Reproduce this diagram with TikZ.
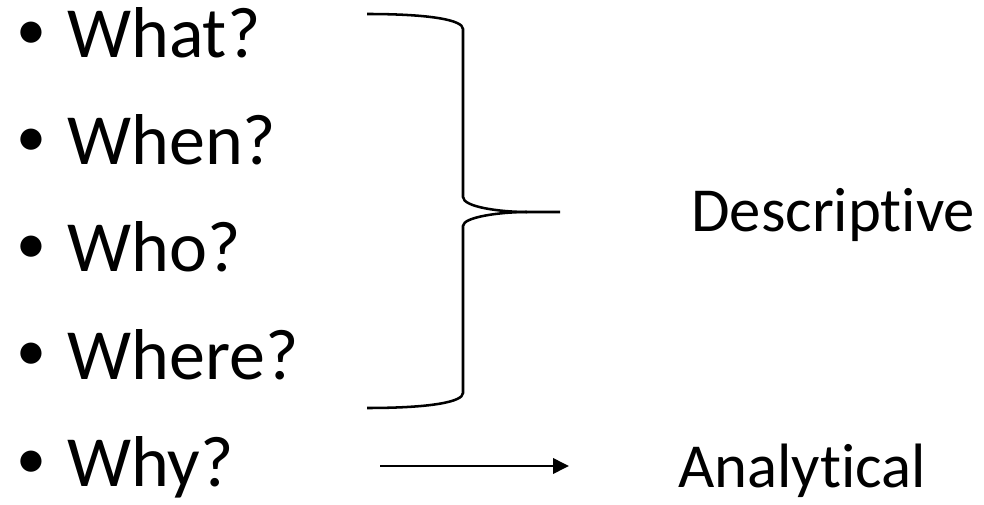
\documentclass[tikz,border=0pt]{standalone}
\usepackage{fontspec}
\setmainfont[Ligatures=NoCommon]{Carlito}
\usetikzlibrary{arrows.meta}
\begin{document}
\begin{tikzpicture}[x=0.75pt,y=-0.75pt,
  item/.style={anchor=base west,inner sep=0pt,font=\fontsize{54}{60}\selectfont},
  bul/.style={anchor=base,inner sep=0pt,font=\fontsize{45}{50}\selectfont},
  lab/.style={anchor=base west,inner sep=0pt,font=\fontsize{47}{54}\selectfont},
  line/.style={line width=1.9pt}]
\useasboundingbox (0,0) rectangle (984,505);
\foreach \t/\y/\n in {What?/58/a,When?/165/b,Who?/272/c,Where?/379/d,Why?/486/e}{
  \node[bul] (b\n) at (31,\y-8) {•};
  \node[item] (\n) at (67,\y) {\t};
}
\node[lab] (desc) at (691,232) {Descriptive};
\node[lab] (anal) at (678,487) {Analytical};
\coordinate (bt) at (367,14);
\coordinate (bb) at (367,408);
\coordinate (tip) at (560,212);
\coordinate (as) at (380,466);
\coordinate (ae) at (569,466);
\draw[line] (bt) .. controls (430,14) and (463,20) .. (463,29) -- (463,197)
  .. controls (463,207) and (500,212) .. (527,212) -- (tip);
\draw[line] (527,212) .. controls (500,212) and (463,217) .. (463,226) -- (463,393)
  .. controls (463,402) and (430,408) .. (bb);
\draw[line,-{Triangle[length=12pt,width=11.5pt]}] (as) -- (ae);
\end{tikzpicture}
\end{document}
